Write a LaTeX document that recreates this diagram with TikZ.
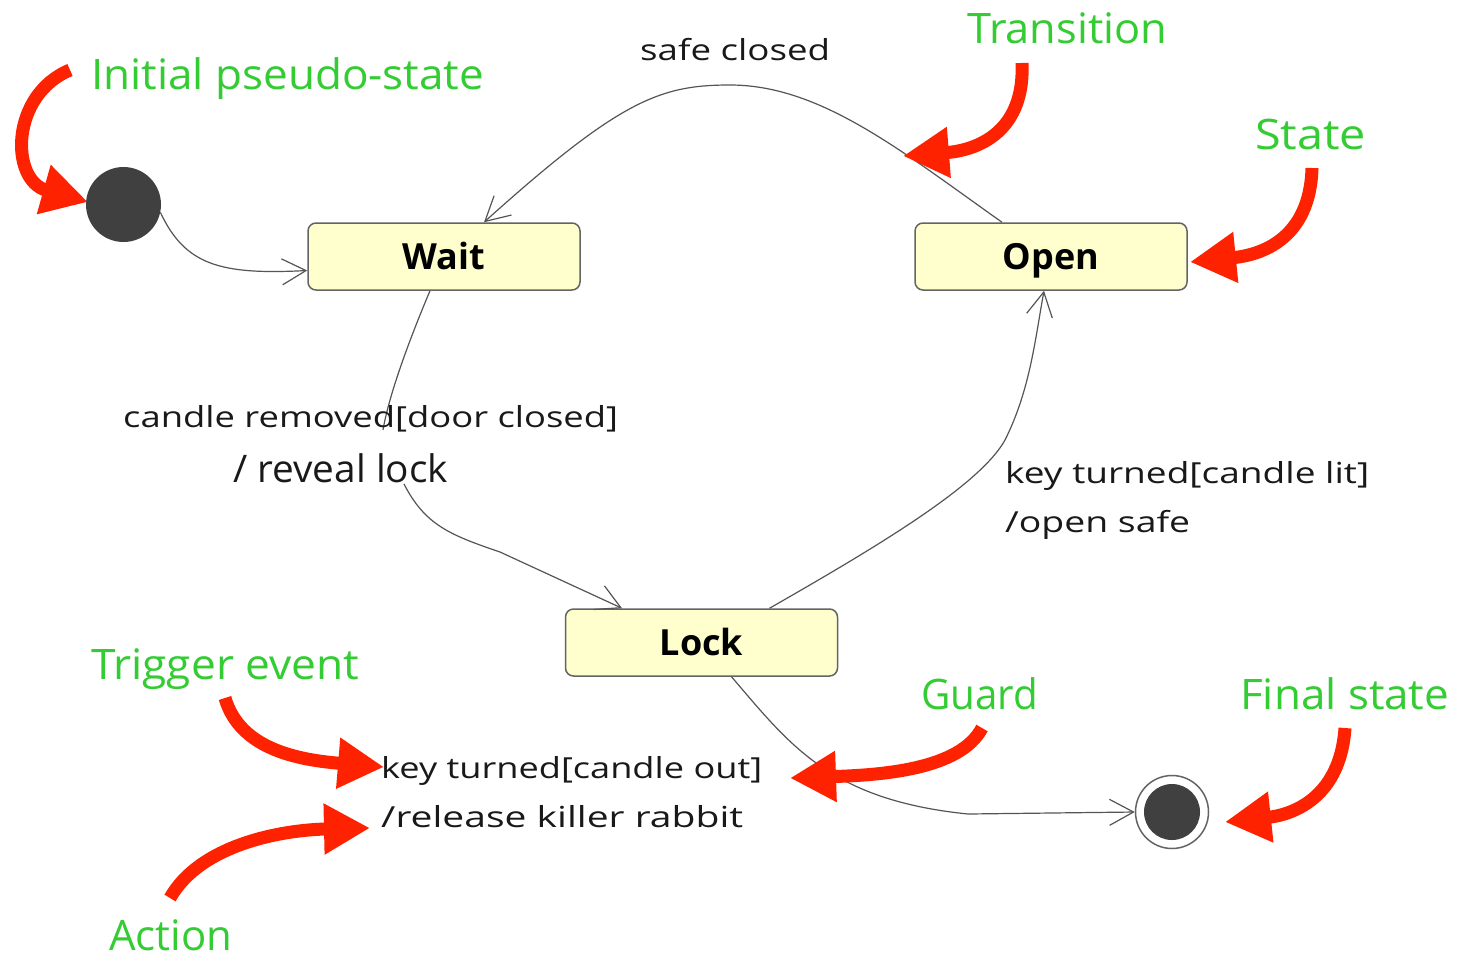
\documentclass[tikz,border=0pt]{standalone}
\usepackage{fontspec}
\setmainfont{Open Sans}
\usetikzlibrary{arrows.meta}
\definecolor{boxfill}{RGB}{255,255,206}
\definecolor{boxline}{RGB}{100,100,100}
\definecolor{linegray}{RGB}{85,85,85}
\definecolor{dotfill}{RGB}{64,64,64}
\definecolor{notegreen}{RGB}{51,204,51}
\definecolor{arrowred}{RGB}{255,34,0}
\newcommand\fw[2]{\resizebox{#1pt}{\height}{#2}}
\begin{document}
\begin{tikzpicture}[x=1pt,y=-1pt,
  statebox/.style={draw=boxline, fill=boxfill, line width=1.5pt, rounded corners=8pt,
    minimum width=272pt, minimum height=67pt, inner sep=0pt,
    font=\fontsize{36}{38}\selectfont\bfseries, text height=26pt, text depth=0pt},
  conn/.style={draw=linegray, line width=1.2pt, -{Straight Barb[length=24pt,width=26pt]}},
  plainconn/.style={draw=linegray, line width=1.2pt},
  lbl/.style={anchor=base west, inner sep=0pt, text=black!90, font=\fontsize{29}{31}\selectfont},
  biglbl/.style={lbl, font=\fontsize{38}{40}\selectfont},
  note/.style={anchor=base west, inner sep=0pt, text=notegreen, font=\fontsize{42}{44}\selectfont},
  redarrow/.style={draw=arrowred, line width=13pt, -{Triangle[length=46pt,width=48pt]}}]
\useasboundingbox[fill=white] (0,0) rectangle (1463,956);

% states
\node[circle, fill=dotfill, minimum size=75pt, inner sep=0pt] (init) at (123.5,204.5) {};
\node[statebox] (wait) at (444,256.5) {Wait};
\node[statebox] (open) at (1051,256.5) {Open};
\node[statebox] (lock) at (701.5,642.5) {Lock};
\node[circle, draw=boxline, line width=1.5pt, fill=white, minimum size=73pt, inner sep=0pt] (final) at (1172,812) {};
\node[circle, fill=dotfill, minimum size=56pt, inner sep=0pt] (finalin) at (final) {};

% transitions
\draw[conn] (init.-12) .. controls (185,265) and (220,275) .. ([yshift=-14pt]wait.west);
\draw[conn] ([xshift=-49pt]open.north) .. controls (900,150) and (820,85) .. (730,85)
   .. controls (660,85) and (620,100) .. ([xshift=40pt]wait.north);
\coordinate (wlgap1) at (383,430);
\coordinate (wlgap2) at (404,484);
\draw[plainconn] ([xshift=-14pt]wait.south) .. controls (405,350) and (388,400) .. (wlgap1);
\draw[conn] (wlgap2) .. controls (425,525) and (450,535) .. (500,552) -- ([xshift=-79.5pt]lock.north);
\draw[conn] ([xshift=68pt]lock.north) .. controls (880,545) and (980,485) .. (1005,440)
   .. controls (1030,390) and (1035,340) .. ([xshift=-7pt]open.south);
\draw[conn] ([xshift=30pt]lock.south) .. controls (790,745) and (830,800) .. (968,814) -- (final.west);

% transition labels
\node[lbl] (lsafe) at (640,60) {\fw{190}{safe closed}};
\node[lbl] (lcand) at (123,427) {\fw{495}{candle removed[door closed]}};
\node[biglbl] (lrev) at (233,482) {\fw{215}{/ reveal lock}};
\node[lbl] (lkey1) at (1005,483) {\fw{364}{key turned[candle lit]}};
\node[lbl] (lopen) at (1005,532) {\fw{185}{/open safe}};
\node[lbl] (lkey2) at (381,778) {\fw{381}{key turned[candle out]}};
\node[lbl] (lrel) at (381,827) {\fw{362}{/release killer rabbit}};

% annotations
\node[note] (nInit) at (91,89) {\fw{393}{Initial pseudo-state}};
\node[note] (nTrans) at (967,43) {\fw{200}{Transition}};
\node[note] (nState) at (1255,149) {\fw{111}{State}};
\node[note] (nGuard) at (921,709) {\fw{117}{Guard}};
\node[note] (nFinal) at (1240,709) {\fw{209}{Final state}};
\node[note] (nTrig) at (91,679) {\fw{268}{Trigger event}};
\node[note] (nAct) at (109,950) {\fw{123}{Action}};

% red pointer arrows
\coordinate (aInitS) at (70,70);     \coordinate (aInitE) at (88,202);
\coordinate (aTransS) at (1022,63);  \coordinate (aTransE) at (903,156);
\coordinate (aStateS) at (1312,168); \coordinate (aStateE) at (1190,262);
\coordinate (aGuardS) at (982,728);  \coordinate (aGuardE) at (790,778);
\coordinate (aFinalS) at (1345,728); \coordinate (aFinalE) at (1225,822);
\coordinate (aTrigS) at (225,698);   \coordinate (aTrigE) at (384,767);
\coordinate (aActS) at (170,898);    \coordinate (aActE) at (370,828);
\draw[redarrow] (aInitS) .. controls (10,95) and (10,180) .. (aInitE);
\draw[redarrow] (aTransS) .. controls (1025,130) and (980,150) .. (aTransE);
\draw[redarrow] (aStateS) .. controls (1310,240) and (1260,255) .. (aStateE);
\draw[redarrow] (aGuardS) .. controls (960,770) and (880,775) .. (aGuardE);
\draw[redarrow] (aFinalS) .. controls (1340,800) and (1290,815) .. (aFinalE);
\draw[redarrow] (aTrigS) .. controls (240,750) and (300,760) .. (aTrigE);
\draw[redarrow] (aActS) .. controls (200,845) and (280,830) .. (aActE);
\end{tikzpicture}
\end{document}
